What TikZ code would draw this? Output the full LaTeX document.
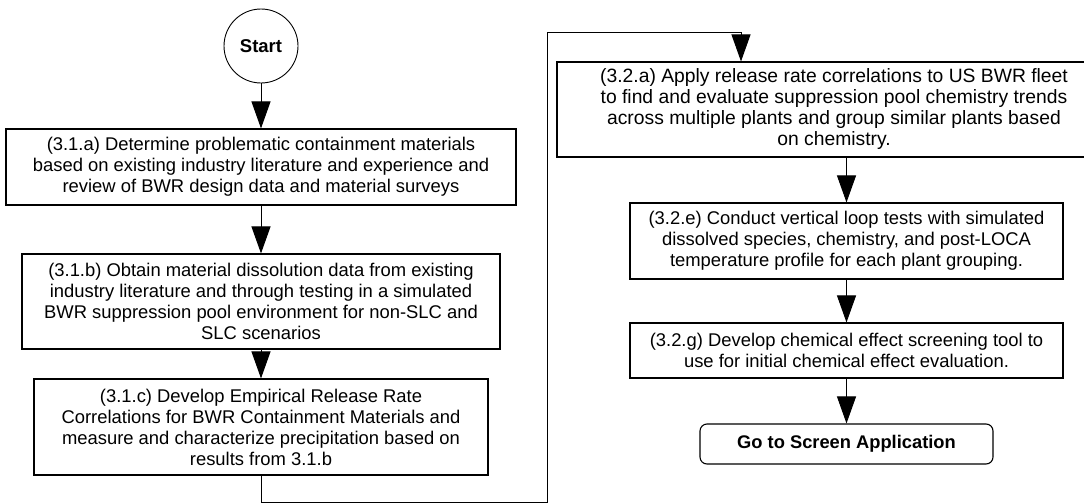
\documentclass[tikz,border=0pt]{standalone}
\usepackage{fontspec}
\setmainfont{Liberation Sans}
\usetikzlibrary{arrows.meta}
\begin{document}
\begin{tikzpicture}[x=1pt,y=-1pt,
  txt/.style={font=\fontsize{18.4}{21}\selectfont},
  stepbox/.style={draw, line width=1.1pt, rectangle, inner sep=0pt, align=center, txt},
  arr/.style={line width=1pt, -{Triangle[width=19pt,length=27pt]}},
  ln/.style={line width=1pt}]
\clip (0,0) rectangle (1084,503);
\node[draw, circle, line width=0.9pt, minimum size=74pt, inner sep=0pt,
  font=\fontsize{18.5}{21}\selectfont\bfseries] (start) at (261,46) {Start};
\node[stepbox, minimum width=510pt, minimum height=76pt] (a1) at (261,167)
  {(3.1.a) Determine problematic containment materials\\based on existing industry literature and experience and\\review of BWR design data and material surveys};
\node[stepbox, minimum width=478pt, minimum height=95pt] (b1) at (261,301.5)
  {(3.1.b) Obtain material dissolution data from existing\\industry literature and through testing in a simulated\\BWR suppression pool environment for non-SLC and\\SLC scenarios};
\node[stepbox, minimum width=454pt, minimum height=96pt] (c1) at (261,427)
  {(3.1.c) Develop Empirical Release Rate\\Correlations for BWR Containment Materials and\\measure and characterize precipitation based on\\results from 3.1.b};
\node[stepbox, minimum width=554pt, minimum height=95pt, font=\fontsize{19.3}{21}\selectfont] (a2) at (834,109.5)
  {(3.2.a) Apply release rate correlations to US BWR fleet\\to find and evaluate suppression pool chemistry trends\\across multiple plants and group similar plants based\\on chemistry.};
\node[stepbox, minimum width=433pt, minimum height=76pt] (e2) at (846.5,241)
  {(3.2.e) Conduct vertical loop tests with simulated\\dissolved species, chemistry, and post-LOCA\\temperature profile for each plant grouping.};
\node[stepbox, minimum width=433pt, minimum height=55pt] (g2) at (846.5,350.5)
  {(3.2.g) Develop chemical effect screening tool to\\use for initial chemical effect evaluation.};
\node[draw, line width=1.1pt, rounded corners=7pt, minimum width=293pt, minimum height=40pt,
  inner sep=0pt, font=\fontsize{18.3}{21}\selectfont\bfseries] (go) at (846.5,444) {Go to Screen Application};
\coordinate (k1) at (547,502);
\coordinate (k2) at (547,33);
\coordinate (k3) at (741,33);
\draw[arr] (start) -- (a1);
\draw[arr] (a1) -- (b1);
\draw[arr] (b1) -- (c1);
\draw[arr] (c1.south) |- (k1) -- (k2) -- (k3) -- (k3 |- a2.north);
\draw[arr] (e2.north |- a2.south) -- (e2.north);
\draw[arr] (e2) -- (g2);
\draw[arr] (g2) -- (go);
\end{tikzpicture}
\end{document}
